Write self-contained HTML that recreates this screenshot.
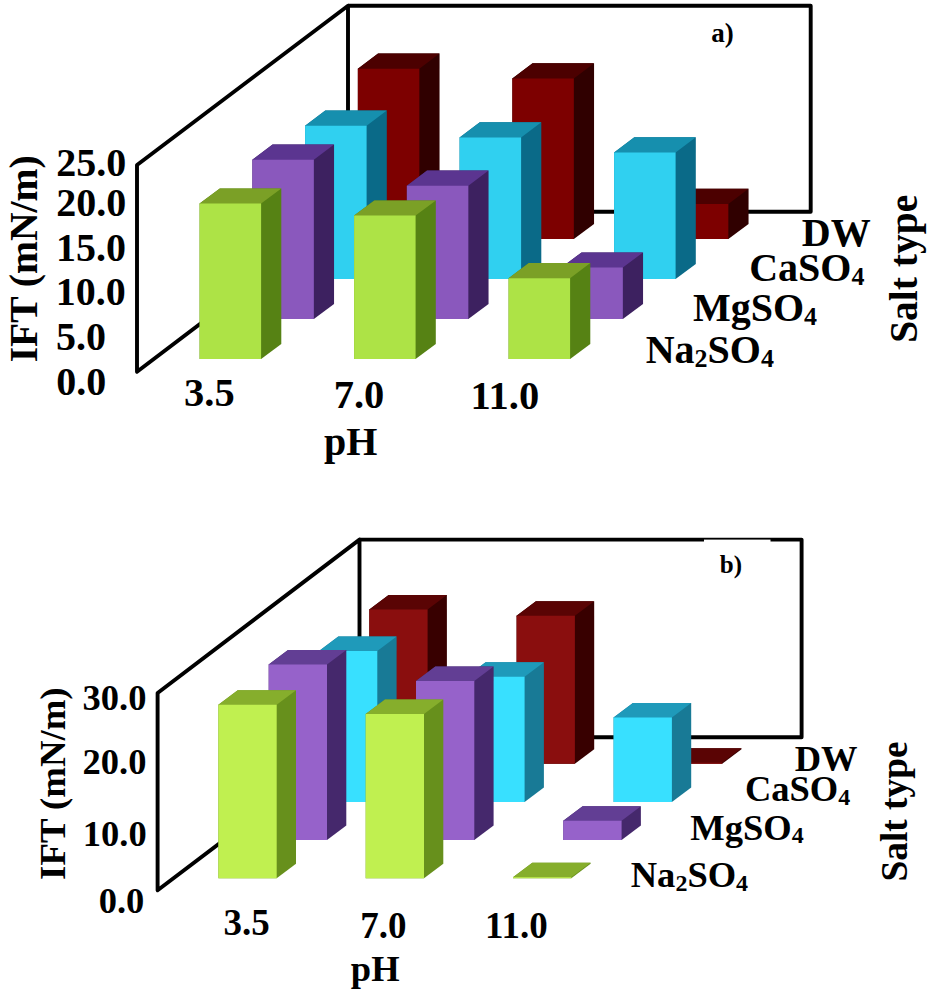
<!DOCTYPE html>
<html><head><meta charset="utf-8"><title>IFT vs pH</title>
<style>html,body{margin:0;padding:0;background:#fff;}svg{display:block;}</style>
</head><body>
<svg width="936" height="996" viewBox="0 0 936 996">
<rect width="936" height="996" fill="#fff"/>
<g fill="none" stroke="#000" stroke-width="3.9" stroke-linejoin="round">
<path d="M137 371.8 L137 165 L348 5.7 L348 211.8 Z"/>
<path d="M348 5.7 L810.7 5.7 L810.7 211.8 L348 211.8"/>
</g>
<polygon points="357.85,239.1 357.85,68.7 378.05,53.5 439.55,53.5 439.55,223.9 419.35,239.1" fill="#300000"/>
<polygon points="357.85,69.3 357.85,68.7 378.05,53.5 439.55,53.5 419.35,68.7 419.35,69.3" fill="#4c0000"/>
<polygon points="357.85,68.7 419.35,68.7 419.35,239.1 357.85,239.1" fill="#7d0000"/>
<polygon points="512.35,239.1 512.35,78.4 532.55,63.2 594.05,63.2 594.05,223.9 573.85,239.1" fill="#300000"/>
<polygon points="512.35,79 512.35,78.4 532.55,63.2 594.05,63.2 573.85,78.4 573.85,79" fill="#4c0000"/>
<polygon points="512.35,78.4 573.85,78.4 573.85,239.1 512.35,239.1" fill="#7d0000"/>
<polygon points="666.85,239.1 666.85,203.9 687.05,188.7 748.55,188.7 748.55,223.9 728.35,239.1" fill="#300000"/>
<polygon points="666.85,204.5 666.85,203.9 687.05,188.7 748.55,188.7 728.35,203.9 728.35,204.5" fill="#4c0000"/>
<polygon points="666.85,203.9 728.35,203.9 728.35,239.1 666.85,239.1" fill="#7d0000"/>
<polygon points="305.1,279.1 305.1,125.8 325.3,110.6 386.8,110.6 386.8,263.9 366.6,279.1" fill="#0a6a88"/>
<polygon points="305.1,126.4 305.1,125.8 325.3,110.6 386.8,110.6 366.6,125.8 366.6,126.4" fill="#168fae"/>
<polygon points="305.1,125.8 366.6,125.8 366.6,279.1 305.1,279.1" fill="#30d0f0"/>
<polygon points="459.6,279.1 459.6,137.5 479.8,122.3 541.3,122.3 541.3,263.9 521.1,279.1" fill="#0a6a88"/>
<polygon points="459.6,138.1 459.6,137.5 479.8,122.3 541.3,122.3 521.1,137.5 521.1,138.1" fill="#168fae"/>
<polygon points="459.6,137.5 521.1,137.5 521.1,279.1 459.6,279.1" fill="#30d0f0"/>
<polygon points="614.1,279.1 614.1,152.4 634.3,137.2 695.8,137.2 695.8,263.9 675.6,279.1" fill="#0a6a88"/>
<polygon points="614.1,153 614.1,152.4 634.3,137.2 695.8,137.2 675.6,152.4 675.6,153" fill="#168fae"/>
<polygon points="614.1,152.4 675.6,152.4 675.6,279.1 614.1,279.1" fill="#30d0f0"/>
<polygon points="252.35,319.1 252.35,159.7 272.55,144.5 334.05,144.5 334.05,303.9 313.85,319.1" fill="#3d2160"/>
<polygon points="252.35,160.3 252.35,159.7 272.55,144.5 334.05,144.5 313.85,159.7 313.85,160.3" fill="#5b3590"/>
<polygon points="252.35,159.7 313.85,159.7 313.85,319.1 252.35,319.1" fill="#8a58bd"/>
<polygon points="406.85,319.1 406.85,185.7 427.05,170.5 488.55,170.5 488.55,303.9 468.35,319.1" fill="#3d2160"/>
<polygon points="406.85,186.3 406.85,185.7 427.05,170.5 488.55,170.5 468.35,185.7 468.35,186.3" fill="#5b3590"/>
<polygon points="406.85,185.7 468.35,185.7 468.35,319.1 406.85,319.1" fill="#8a58bd"/>
<polygon points="561.35,319.1 561.35,267.6 581.55,252.4 643.05,252.4 643.05,303.9 622.85,319.1" fill="#3d2160"/>
<polygon points="561.35,268.2 561.35,267.6 581.55,252.4 643.05,252.4 622.85,267.6 622.85,268.2" fill="#5b3590"/>
<polygon points="561.35,267.6 622.85,267.6 622.85,319.1 561.35,319.1" fill="#8a58bd"/>
<polygon points="199.6,359.1 199.6,203.6 219.8,188.4 281.3,188.4 281.3,343.9 261.1,359.1" fill="#568214"/>
<polygon points="199.6,204.2 199.6,203.6 219.8,188.4 281.3,188.4 261.1,203.6 261.1,204.2" fill="#7ba026"/>
<polygon points="199.6,203.6 261.1,203.6 261.1,359.1 199.6,359.1" fill="#ade346"/>
<polygon points="354.1,359.1 354.1,215.6 374.3,200.4 435.8,200.4 435.8,343.9 415.6,359.1" fill="#568214"/>
<polygon points="354.1,216.2 354.1,215.6 374.3,200.4 435.8,200.4 415.6,215.6 415.6,216.2" fill="#7ba026"/>
<polygon points="354.1,215.6 415.6,215.6 415.6,359.1 354.1,359.1" fill="#ade346"/>
<polygon points="508.6,359.1 508.6,278.2 528.8,263 590.3,263 590.3,343.9 570.1,359.1" fill="#568214"/>
<polygon points="508.6,278.8 508.6,278.2 528.8,263 590.3,263 570.1,278.2 570.1,278.8" fill="#7ba026"/>
<polygon points="508.6,278.2 570.1,278.2 570.1,359.1 508.6,359.1" fill="#ade346"/>
<g fill="none" stroke="#000" stroke-width="3.9" stroke-linejoin="round">
<path d="M157.6 890.2 L157.6 693 L359.5 539.6 L359.5 737.3 Z"/>
<path d="M359.5 539.6 L801.6 539.6 L801.6 737.3 L359.5 737.3"/>
</g>
<polygon points="369.3,763.7 369.3,609.5 388.6,595 446.9,595 446.9,749.2 427.6,763.7" fill="#380000"/>
<polygon points="369.3,610.1 369.3,609.5 388.6,595 446.9,595 427.6,609.5 427.6,610.1" fill="#5a0404"/>
<polygon points="369.3,609.5 427.6,609.5 427.6,763.7 369.3,763.7" fill="#8a0e0e"/>
<polygon points="516.6,763.7 516.6,615.8 535.9,601.3 594.2,601.3 594.2,749.2 574.9,763.7" fill="#380000"/>
<polygon points="516.6,616.4 516.6,615.8 535.9,601.3 594.2,601.3 574.9,615.8 574.9,616.4" fill="#5a0404"/>
<polygon points="516.6,615.8 574.9,615.8 574.9,763.7 516.6,763.7" fill="#8a0e0e"/>
<polygon points="663.9,763.7 663.9,762.7 683.2,748.2 741.5,748.2 741.5,749.2 722.2,763.7" fill="#380000"/>
<polygon points="663.9,763.3 663.9,762.7 683.2,748.2 741.5,748.2 722.2,762.7 722.2,763.3" fill="#5a0404"/>
<polygon points="663.9,762.7 722.2,762.7 722.2,763.7 663.9,763.7" fill="#8a0e0e"/>
<polygon points="319,801.9 319,651 338.3,636.5 396.6,636.5 396.6,787.4 377.3,801.9" fill="#187a96"/>
<polygon points="319,651.6 319,651 338.3,636.5 396.6,636.5 377.3,651 377.3,651.6" fill="#1f9aba"/>
<polygon points="319,651 377.3,651 377.3,801.9 319,801.9" fill="#38e0ff"/>
<polygon points="466.3,801.9 466.3,676.7 485.6,662.2 543.9,662.2 543.9,787.4 524.6,801.9" fill="#187a96"/>
<polygon points="466.3,677.3 466.3,676.7 485.6,662.2 543.9,662.2 524.6,676.7 524.6,677.3" fill="#1f9aba"/>
<polygon points="466.3,676.7 524.6,676.7 524.6,801.9 466.3,801.9" fill="#38e0ff"/>
<polygon points="613.6,801.9 613.6,717.5 632.9,703 691.2,703 691.2,787.4 671.9,801.9" fill="#187a96"/>
<polygon points="613.6,718.1 613.6,717.5 632.9,703 691.2,703 671.9,717.5 671.9,718.1" fill="#1f9aba"/>
<polygon points="613.6,717.5 671.9,717.5 671.9,801.9 613.6,801.9" fill="#38e0ff"/>
<polygon points="268.7,840.1 268.7,664.5 288,650 346.3,650 346.3,825.6 327,840.1" fill="#45286c"/>
<polygon points="268.7,665.1 268.7,664.5 288,650 346.3,650 327,664.5 327,665.1" fill="#623e94"/>
<polygon points="268.7,664.5 327,664.5 327,840.1 268.7,840.1" fill="#9662ca"/>
<polygon points="416,840.1 416,680.9 435.3,666.4 493.6,666.4 493.6,825.6 474.3,840.1" fill="#45286c"/>
<polygon points="416,681.5 416,680.9 435.3,666.4 493.6,666.4 474.3,680.9 474.3,681.5" fill="#623e94"/>
<polygon points="416,680.9 474.3,680.9 474.3,840.1 416,840.1" fill="#9662ca"/>
<polygon points="563.3,840.1 563.3,820.7 582.6,806.2 640.9,806.2 640.9,825.6 621.6,840.1" fill="#45286c"/>
<polygon points="563.3,821.3 563.3,820.7 582.6,806.2 640.9,806.2 621.6,820.7 621.6,821.3" fill="#623e94"/>
<polygon points="563.3,820.7 621.6,820.7 621.6,840.1 563.3,840.1" fill="#9662ca"/>
<polygon points="218.4,878.3 218.4,704.7 237.7,690.2 296,690.2 296,863.8 276.7,878.3" fill="#67901c"/>
<polygon points="218.4,705.3 218.4,704.7 237.7,690.2 296,690.2 276.7,704.7 276.7,705.3" fill="#86ae2c"/>
<polygon points="218.4,704.7 276.7,704.7 276.7,878.3 218.4,878.3" fill="#c0f050"/>
<polygon points="365.7,878.3 365.7,713.9 385,699.4 443.3,699.4 443.3,863.8 424,878.3" fill="#67901c"/>
<polygon points="365.7,714.5 365.7,713.9 385,699.4 443.3,699.4 424,713.9 424,714.5" fill="#86ae2c"/>
<polygon points="365.7,713.9 424,713.9 424,878.3 365.7,878.3" fill="#c0f050"/>
<polygon points="513,878.3 513,877.3 532.3,862.8 590.6,862.8 590.6,863.8 571.3,878.3" fill="#67901c"/>
<polygon points="513,877.9 513,877.3 532.3,862.8 590.6,862.8 571.3,877.3 571.3,877.9" fill="#86ae2c"/>
<polygon points="513,877.3 571.3,877.3 571.3,878.3 513,878.3" fill="#c0f050"/>
<rect x="704" y="539.6" width="66.5" height="3" fill="#fff"/>
<g font-family='"Liberation Serif", serif' font-weight="bold" fill="#000">
<text x="56.2" y="176.3" font-size="40">25.0</text>
<text x="56.2" y="215.6" font-size="40">20.0</text>
<text x="55.9" y="260.8" font-size="40">15.0</text>
<text x="55.8" y="305.1" font-size="40">10.0</text>
<text x="56.1" y="350.4" font-size="40">5.0</text>
<text x="56.2" y="394.6" font-size="40">0.0</text>
<text x="184.09" y="406" font-size="40.5">3.5</text>
<text x="333.63" y="408.3" font-size="40.5">7.0</text>
<text x="470.57" y="408.6" font-size="40.5">11.0</text>
<text x="324.1" y="454.6" font-size="40">pH</text>
<text x="801.8" y="246.3" font-size="40">DW</text>
<text x="749.2" y="281.3" font-size="40"><tspan font-size="40" dy="0">CaSO</tspan><tspan font-size="26" dy="3.8">4</tspan></text>
<text x="692.9" y="321.3" font-size="40"><tspan font-size="40" dy="0">MgSO</tspan><tspan font-size="26" dy="3.8">4</tspan></text>
<text x="645.7" y="363" font-size="40"><tspan font-size="40" dy="0">Na</tspan><tspan font-size="26" dy="3.8">2</tspan><tspan font-size="40" dy="-3.8">SO</tspan><tspan font-size="26" dy="3.8">4</tspan></text>
<text transform="translate(917.4 342.87) rotate(-90)" x="0" y="0" font-size="39.5">Salt type</text>
<text transform="translate(36.5 362.29) rotate(-90)" x="0" y="0" font-size="39.6">IFT (mN/m)</text>
<text x="711.32" y="42.2" font-size="27">a)</text>
<text x="82.59" y="709.8" font-size="36.5">30.0</text>
<text x="82.59" y="774.4" font-size="36.5">20.0</text>
<text x="82.79" y="845.7" font-size="36.5">10.0</text>
<text x="98.64" y="913.3" font-size="36.5">0.0</text>
<text x="223.57" y="935.4" font-size="37">3.5</text>
<text x="360.15" y="938.1" font-size="37">7.0</text>
<text x="484.96" y="938.4" font-size="37">11.0</text>
<text x="350.84" y="981.2" font-size="36.5">pH</text>
<text x="794.66" y="770.8" font-size="36.5">DW</text>
<text x="744.88" y="801.1" font-size="36.5"><tspan font-size="36.5" dy="0">CaSO</tspan><tspan font-size="24" dy="3.6">4</tspan></text>
<text x="690.26" y="839.5" font-size="36.5"><tspan font-size="36.5" dy="0">MgSO</tspan><tspan font-size="24" dy="3.6">4</tspan></text>
<text x="630.77" y="887" font-size="36.5"><tspan font-size="36.5" dy="0">Na</tspan><tspan font-size="24" dy="3.6">2</tspan><tspan font-size="36.5" dy="-3.6">SO</tspan><tspan font-size="24" dy="3.6">4</tspan></text>
<text transform="translate(906.5 881.56) rotate(-90)" x="0" y="0" font-size="37.4">Salt type</text>
<text transform="translate(64.9 879.9) rotate(-90)" x="0" y="0" font-size="36.8">IFT (mN/m)</text>
<text x="719.79" y="572.6" font-size="25">b)</text>
</g>
</svg>
</body></html>
